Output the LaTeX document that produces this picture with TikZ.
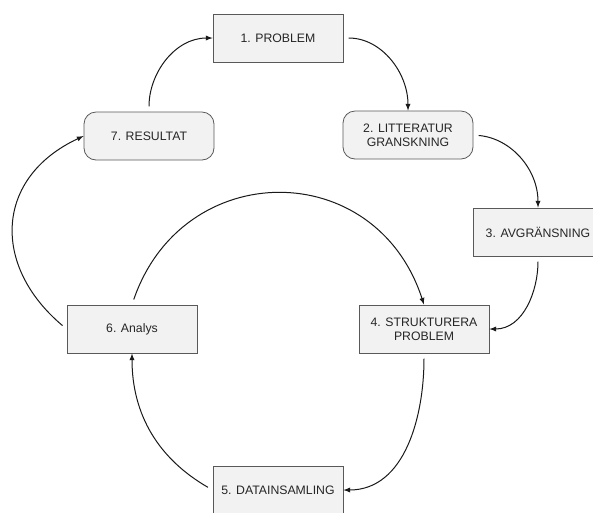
\documentclass[tikz,border=0pt]{standalone}
\usepackage{fontspec}
\setmainfont{Liberation Sans}
\usetikzlibrary{positioning}

\begin{document}
\begin{tikzpicture}[-latex ,x=0.75pt ,y=0.75pt ,
    line width=0.75pt ,
    box/.style ={ rectangle ,fill=gray!10 ,draw=black!65 ,line width=0.6pt ,text=black!85 ,
    font=\fontsize{9.2}{10.5}\selectfont ,align=center ,
    minimum width =97.5pt, minimum height = 36pt},
    roundbox/.style ={box ,rounded corners=9pt},
    link/.style ={black!90 ,shorten <=4pt}]
    \useasboundingbox (0,0) rectangle (593,-512);
    \node[box] (A) at (278,-38) {1. PROBLEM};
    \node[roundbox] (B) at (408,-135) {2. LITTERATUR\\GRANSKNING};
    \node[box] (C) at (538,-232) {3. AVGRÄNSNING};
    \node[box] (D) at (424,-329) {4. STRUKTURERA\\PROBLEM};
    \node[box] (E) at (278,-490) {5. DATAINSAMLING};
    \node[box] (F) at (132,-329) {6. Analys};
    \node[roundbox] (G) at (149,-136) {7. RESULTAT};
    % the cycle
    \path[link] (G.north) edge[out=90 ,in=180] (A.west);
    \path[link] (A.east) edge[out=0 ,in=90] (B.north);
    \path[link] (B.east) edge[out=-5 ,in=90] (C.north);
    \path[link] (C.south) edge[out=-90 ,in=0] (D.east);
    \path[link] (D.south) edge[out=-90 ,in=0] (E.east);
    \path[link] (E.west) edge[out=150 ,in=-90] (F.south);
    \path[link] (F.west) edge[out=140 ,in=205 ,looseness=1.3] (G.west);
    % back to step 4
    \path[link] (F.north) edge[out=71 ,in=108 ,looseness=1.37] (D.north);
\end{tikzpicture}
\end{document}
